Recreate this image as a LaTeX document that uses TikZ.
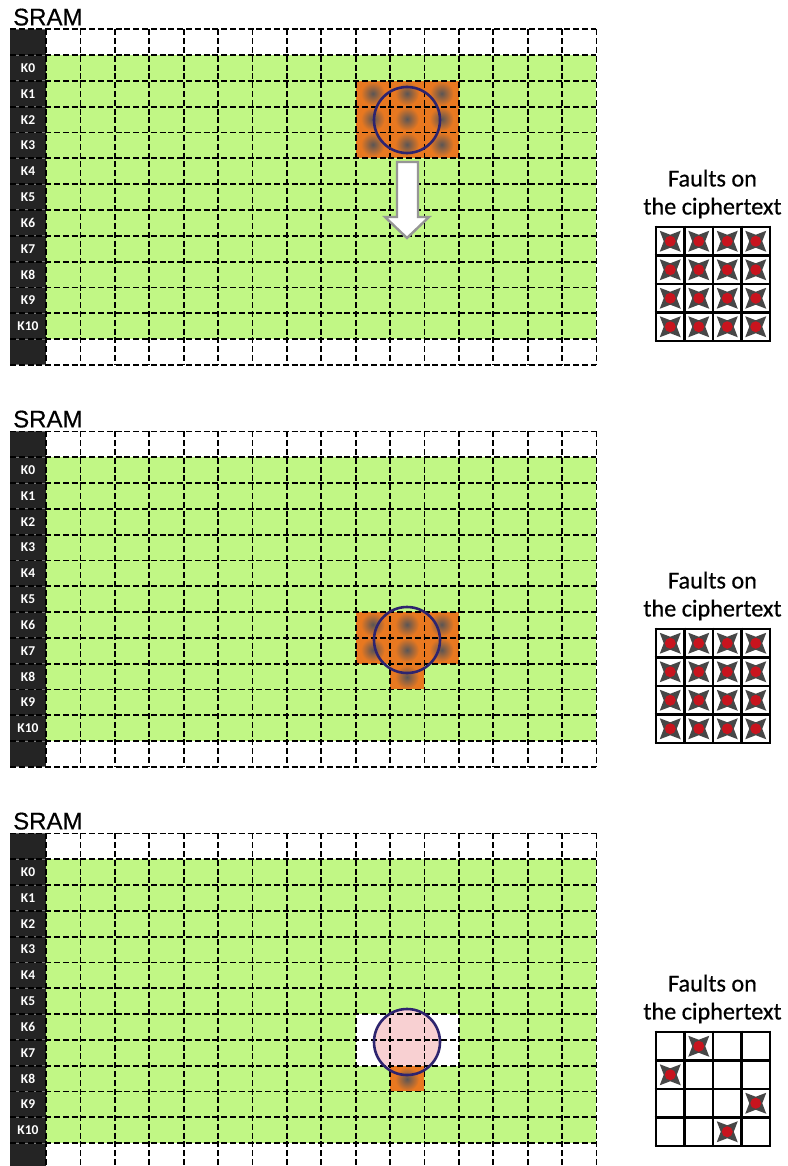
\documentclass[tikz,border=0pt]{standalone}
\usepackage{fontspec}
\setmainfont[FakeBold=0.6]{Carlito}
\newfontfamily\sramfont[FakeBold=0.5]{Liberation Sans}
\newfontfamily\keyfont{Carlito}
\usepackage{xcolor}
\definecolor{cellgreen}{RGB}{193, 247, 133}
\definecolor{keydark}{RGB}{36, 36, 36}
\definecolor{keygap}{RGB}{120, 120, 120}
\definecolor{hitorange}{RGB}{232, 120, 32}
\definecolor{spotgray}{RGB}{90, 85, 85}
\definecolor{ringblue}{RGB}{46, 36, 110}
\definecolor{ringpink}{RGB}{248, 208, 210}
\definecolor{faultred}{RGB}{200, 20, 30}
\definecolor{arrowgray}{RGB}{150, 150, 150}
\usetikzlibrary{calc}
\tikzset{
    gridline/.style={line width=1.8pt, black, dash pattern=on 6pt off 2.8pt},
    spot/.style={inner color=spotgray, outer color=hitorange},
    ring/.style={line width=2.6pt, ringblue},
    faultline/.style={line width=2.9pt, black},
    sramlabel/.style={anchor=base west, inner sep=0pt, font=\sramfont\fontsize{24}{26}\selectfont},
    keylabel/.style={inner sep=0pt, text=white, font=\keyfont\bfseries\fontsize{13.5}{14}\selectfont},
    faultlabel/.style={inner sep=0pt, align=center, font=\fontsize{24.2}{28}\selectfont},
    faultstar/.pic={
        \fill[black!72] (-10.5,-10.5) -- (0,-6.5) -- (10.5,-10.5) -- (6.5,0) -- (10.5,10.5) -- (0,6.5) -- (-10.5,10.5) -- (-6.5,0) -- cycle;
        \fill[faultred] (0,0) circle (5.5);
    }
}
\begin{document}
\begin{tikzpicture}[x=1pt, y=-1pt]
    \clip (0,0) rectangle (787,1166);
    \fill[white] (0,0) rectangle (787,1166);

    % memory blocks
    \foreach \t/\n in {29.4/a, 431.4/b, 833.4/c} {
        \fill[keydark] (10,\t) rectangle (46,{\t+335.4});
        \fill[cellgreen] (46,{\t+25.8}) rectangle (596.4,{\t+309.6});
        \node[sramlabel] (sram\n) at (13,{\t-4}) {SRAM};
        \foreach \k in {0,...,10} {
            \node[keylabel] (key\n\k) at (28,{\t+25.8*(\k+1.5)}) {K\k};
        }
    }

    % hit regions, top block
    \fill[hitorange] (355.6,81) rectangle (458.8,158.4);
    \foreach \sx in {372.8, 407, 441.6} {
        \foreach \sy in {93.5, 119, 144.5} {
            \shade[spot] (\sx,\sy) circle (12);
        }
    }

    % hit regions, middle block
    \fill[hitorange] (355.6,612) rectangle (458.8,663.6);
    \fill[hitorange] (390,663.6) rectangle (424.4,689.4);
    \foreach \sx in {372.8, 407, 441.6} {
        \foreach \sy in {624.5, 650} {
            \shade[spot] (\sx,\sy) circle (12);
        }
    }
    \begin{scope}
        \clip (390,663.6) rectangle (424.4,689.4);
        \shade[spot] (407,677) circle (12);
    \end{scope}

    % hit regions, bottom block
    \fill[white] (355.6,1014) rectangle (458.8,1065.6);
    \fill[ringpink] (407,1042) circle (33);
    \fill[hitorange] (390,1065.6) rectangle (424.4,1091.4);
    \begin{scope}
        \clip (390,1065.6) rectangle (424.4,1091.4);
        \shade[spot] (407,1079) circle (12);
    \end{scope}

    % dashed cells
    \foreach \t in {29.4, 431.4, 833.4} {
        \foreach \r in {0,...,13} {
            \draw[keygap, line width=1pt] (10,{\t+25.8*\r}) -- (46,{\t+25.8*\r});
            \draw[gridline] (10,{\t+25.8*\r}) -- (596.4,{\t+25.8*\r});
        }
        \foreach \c in {0,...,16} {
            \draw[gridline] ({46+34.4*\c},\t) -- ({46+34.4*\c},{\t+335.4});
        }
    }

    \draw[ring] (407,120) circle (33);
    \draw[ring] (407,640) circle (33);
    \draw[ring] (407,1042) circle (33);

    % white arrow
    \filldraw[fill=white, draw=arrowgray, line width=2.4pt] (397,162) -- (418,162) -- (418,217) -- (429,217) -- (407,238) -- (385,217) -- (397,217) -- cycle;

    % fault maps
    \foreach \y/\n in {227/a, 629/b, 1032/c} {
        \node[faultlabel] (faults\n) at (712.5,{\y-33}) {Faults on\\the ciphertext};
        \foreach \k in {0,...,4} {
            \draw[faultline] ({656+28.5*\k},{\y-1.45}) -- ({656+28.5*\k},{\y+115.45});
            \draw[faultline] (654.55,{\y+28.5*\k}) -- (771.45,{\y+28.5*\k});
        }
    }
    \foreach \y in {227, 629} {
        \foreach \r in {0,...,3} {
            \foreach \c in {0,...,3} {
                \pic at ({670.25+28.5*\c},{\y+14.25+28.5*\r}) {faultstar};
            }
        }
    }
    \foreach \c/\r in {1/0, 0/1, 3/2, 2/3} {
        \pic at ({670.25+28.5*\c},{1032+14.25+28.5*\r}) {faultstar};
    }
\end{tikzpicture}
\end{document}
